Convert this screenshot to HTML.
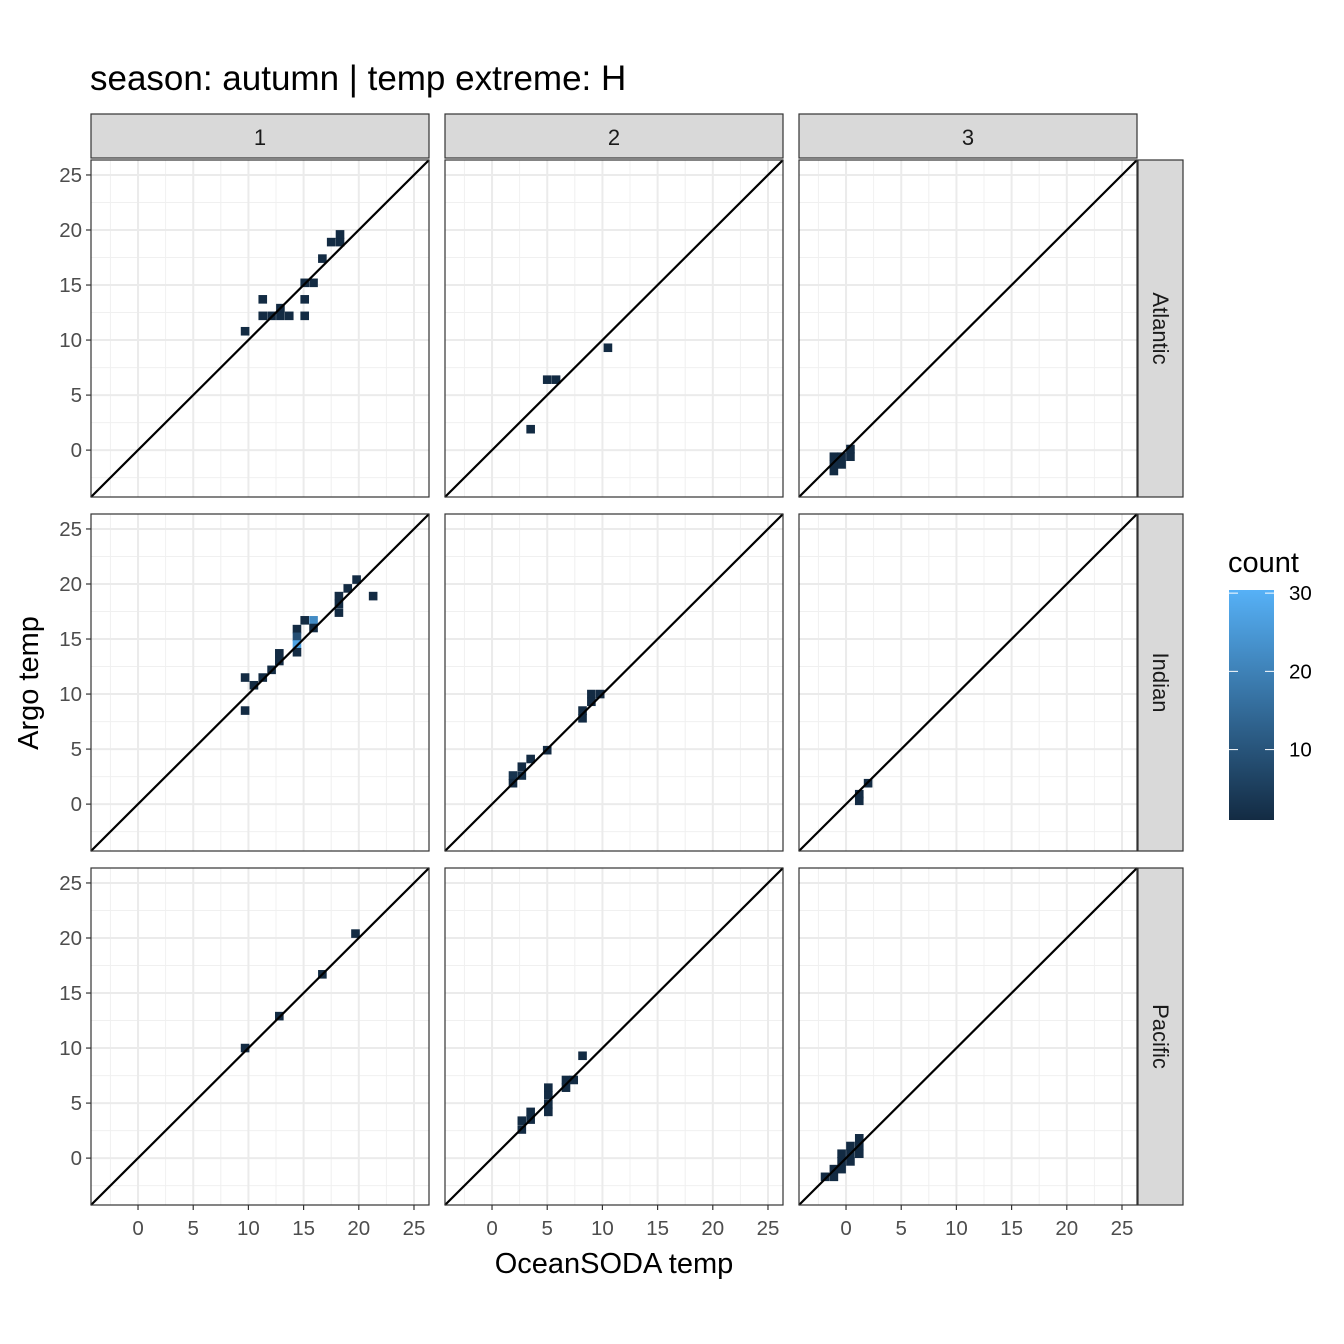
<!DOCTYPE html>
<html><head><meta charset="utf-8"><style>
body{margin:0;background:#fff}
svg{display:block;font-family:"Liberation Sans",Arial,sans-serif}
</style></head><body>
<svg id="c" width="1344" height="1344" viewBox="0 0 1344 1344"></svg>
<script>
const colLabels=["1","2","3"];
const rowLabels=["Atlantic","Indian","Pacific"];
const xTicks=[0,5,10,15,20,25];
const yTicks=[0,5,10,15,20,25];
const legendTicks=[10,20,30];
// tiles per panel: [x, y, count]
const tilesAtl1=[[9.7,10.8,1],[11.3,13.7,1],[11.3,12.2,1],[12.1,12.2,1],[12.9,12.2,1],[13.7,12.2,1],[12.9,12.9,1],[15.1,13.7,1],[15.1,12.2,1],[15.1,15.2,1],[15.9,15.2,1],[16.7,17.4,1],[17.5,18.9,1],[18.3,18.9,1],[18.3,19.6,1]];
const tilesAtl2=[[3.5,1.9,1],[5.0,6.4,1],[5.8,6.4,1],[10.5,9.3,1]];
const tilesAtl3=[[-1.1,-0.6,1],[-1.1,-1.3,1],[-0.4,-0.6,1],[-0.4,-1.3,1],[0.4,-0.6,1],[0.4,0.1,1],[-1.1,-1.9,1]];
const tilesInd1=[[9.7,11.5,1],[9.7,8.5,1],[10.5,10.8,1],[11.3,11.5,1],[12.1,12.2,1],[12.8,13.0,1],[12.8,13.7,1],[14.4,15.9,1],[14.4,15.2,9],[14.4,14.5,27],[14.4,13.8,1],[15.1,16.7,1],[15.9,16.7,22],[15.9,16.0,1],[18.2,18.9,1],[18.2,18.2,1],[18.2,17.4,1],[19.0,19.6,1],[19.8,20.4,1],[21.3,18.9,1]];
const tilesInd2=[[1.9,2.6,3],[1.9,1.9,1],[2.7,2.6,2],[2.7,3.4,1],[3.5,4.1,1],[5.0,4.9,1],[8.2,8.5,1],[8.2,7.8,1],[9.0,10.0,1],[9.8,10.0,1],[9.0,9.3,1]];
const tilesInd3=[[1.2,0.9,1],[1.2,0.3,1],[2.0,1.9,1]];
const tilesPac1=[[9.7,10.0,1],[12.8,12.9,1],[16.7,16.7,1],[19.7,20.4,1]];
const tilesPac2=[[2.7,3.4,1],[2.7,2.6,1],[3.5,4.2,1],[3.5,3.5,1],[5.1,6.4,1],[5.1,5.7,1],[5.1,4.9,1],[5.1,4.2,1],[6.7,7.1,1],[6.7,6.4,1],[7.4,7.1,1],[8.2,9.3,1]];
const tilesPac3=[[-1.9,-1.7,1],[-1.1,-1.7,1],[-1.1,-1.0,1],[-0.4,-1.0,1],[-0.4,-0.3,1],[-0.4,0.4,1],[0.4,-0.3,1],[0.4,0.4,1],[0.4,1.1,1],[1.2,1.1,1],[1.2,1.8,1],[1.2,0.4,1]];
const panels=[[tilesAtl1,tilesAtl2,tilesAtl3],[tilesInd1,tilesInd2,tilesInd3],[tilesPac1,tilesPac2,tilesPac3]];

const NS="http://www.w3.org/2000/svg";
const svg=document.getElementById('c');
function mk(t,a,p){const e=document.createElementNS(NS,t);for(const k in a)e.setAttribute(k,a[k]);(p||svg).appendChild(e);return e;}
const colX=[91,445,799], rowY=[160,514,868], PW=338, PH=337;
const dmin=-4.26, dmax=26.36, BW=0.78;
const sx=(v,c)=>colX[c]+(v-dmin)/(dmax-dmin)*PW;
const sy=(v,r)=>rowY[r]+PH-(v-dmin)/(dmax-dmin)*PH;
const cmin=1,cmax=30.4;
function col(n){const t=Math.max(0,Math.min(1,(n-cmin)/(cmax-cmin)));
 const a=[0x13,0x2B,0x43],b=[0x56,0xB1,0xF7];
 return 'rgb('+a.map((v,i)=>Math.round(v+(b[i]-v)*t)).join(',')+')';}

let t=mk('text',{x:90,y:90,'font-size':35,fill:'#000'});t.textContent="season: autumn | temp extreme: H";



for(let r=0;r<3;r++)for(let c=0;c<3;c++){
 const g=mk('g',{});
 
 
 mk('rect',{x:colX[c],y:rowY[r],width:PW,height:PH,fill:'#fff'},g);
 for(let v=-2.5;v<=25;v+=5){
  mk('line',{x1:sx(v,c),x2:sx(v,c),y1:rowY[r],y2:rowY[r]+PH,stroke:'#F0F0F0','stroke-width':1},g);
  mk('line',{y1:sy(v,r),y2:sy(v,r),x1:colX[c],x2:colX[c]+PW,stroke:'#F0F0F0','stroke-width':1},g);}
 xTicks.forEach(v=>mk('line',{x1:sx(v,c),x2:sx(v,c),y1:rowY[r],y2:rowY[r]+PH,stroke:'#EBEBEB','stroke-width':2},g));
 yTicks.forEach(v=>mk('line',{y1:sy(v,r),y2:sy(v,r),x1:colX[c],x2:colX[c]+PW,stroke:'#EBEBEB','stroke-width':2},g));
 panels[r][c].forEach(d=>{
  const x0=sx(d[0]-BW/2,c),x1=sx(d[0]+BW/2,c),y0=sy(d[1]+BW/2,r),y1=sy(d[1]-BW/2,r);
  const e=mk('rect',{x:x0,y:y0,width:x1-x0,height:y1-y0,fill:col(d[2])},g);
  
  
 });
 const dl=mk('line',{x1:sx(dmin,c),y1:sy(dmin,r),x2:sx(dmax,c),y2:sy(dmax,r),stroke:'#000','stroke-width':2.2},g);
 
 
 mk('rect',{x:colX[c],y:rowY[r],width:PW,height:PH,fill:'none',stroke:'#333','stroke-width':1.2},g);
 if(c===0) yTicks.forEach(v=>{
  mk('line',{x1:colX[0]-5,x2:colX[0],y1:sy(v,r),y2:sy(v,r),stroke:'#333','stroke-width':1.2});
  const tx=mk('text',{x:colX[0]-9,y:sy(v,r)+7,'font-size':20.5,fill:'#4D4D4D','text-anchor':'end'});tx.textContent=v;
  
  
 });
 if(r===2) xTicks.forEach(v=>{
  mk('line',{x1:sx(v,c),x2:sx(v,c),y1:rowY[2]+PH,y2:rowY[2]+PH+5,stroke:'#333','stroke-width':1.2});
  const tx=mk('text',{x:sx(v,c),y:rowY[2]+PH+30,'font-size':20.5,fill:'#4D4D4D','text-anchor':'middle'});tx.textContent=v;
  
  
 });
}
colLabels.forEach((l,c)=>{
 const s=mk('rect',{x:colX[c],y:114,width:PW,height:44,fill:'#D9D9D9',stroke:'#333','stroke-width':1.2});
 
 
 const tx=mk('text',{x:colX[c]+PW/2,y:145,'font-size':22,fill:'#1A1A1A','text-anchor':'middle'});tx.textContent=l;
 
 
});
rowLabels.forEach((l,r)=>{
 const s=mk('rect',{x:1138,y:rowY[r],width:45,height:PH,fill:'#D9D9D9',stroke:'#333','stroke-width':1.2});
 
 
 const cy=rowY[r]+PH/2;
 const tx=mk('text',{x:1153,y:cy,'font-size':22,fill:'#1A1A1A','text-anchor':'middle',transform:'rotate(90 1153 '+cy+')'});tx.textContent=l;
 
 
});
t=mk('text',{x:614,y:1273,'font-size':29,'text-anchor':'middle',fill:'#000'});t.textContent="OceanSODA temp";


t=mk('text',{x:38,y:683,'font-size':29,'text-anchor':'middle',fill:'#000',transform:'rotate(-90 38 683)'});t.textContent="Argo temp";


// legend
const defs=mk('defs',{});
const lg=mk('linearGradient',{id:'lg',x1:0,y1:1,x2:0,y2:0},defs);
mk('stop',{offset:0,'stop-color':col(cmin)},lg);mk('stop',{offset:1,'stop-color':col(cmax)},lg);
const LT=590,LB=820;
const ly=v=>LB-(v-cmin)/(cmax-cmin)*(LB-LT);
t=mk('text',{x:1228,y:572,'font-size':29,fill:'#000'});t.textContent="count";


const bar=mk('rect',{x:1229,y:LT,width:45,height:LB-LT,fill:'url(#lg)'});


legendTicks.forEach(v=>{
 mk('line',{x1:1229,x2:1238,y1:ly(v),y2:ly(v),stroke:'#fff','stroke-width':1});
 mk('line',{x1:1265,x2:1274,y1:ly(v),y2:ly(v),stroke:'#fff','stroke-width':1});
 const tx=mk('text',{x:1289,y:ly(v)+7,'font-size':20.5,fill:'#000'});tx.textContent=v;
 
 
});
</script>
</body></html>
